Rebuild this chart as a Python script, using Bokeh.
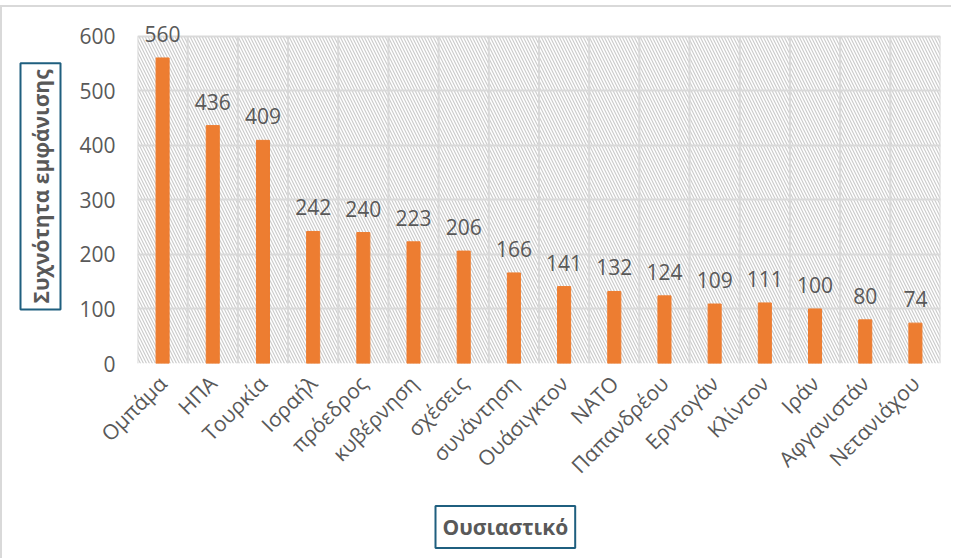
import math
from bokeh.plotting import figure
from bokeh.models import ColumnDataSource, BoxAnnotation, Title, FixedTicker, LabelSet
from bokeh.core.properties import value
from bokeh.embed import file_html
from bokeh.resources import INLINE

categories = ["Ομπάμα", "ΗΠΑ", "Τουρκία", "Ισραήλ", "πρόεδρος", "κυβέρνηση", "σχέσεις",
              "συνάντηση", "Ουάσιγκτον", "ΝΑΤΟ", "Παπανδρέου", "Ερντογάν", "Κλίντον",
              "Ιράν", "Αφγανιστάν", "Νετανιάχου"]
counts = [560, 436, 409, 242, 240, 223, 206, 166, 141, 132, 124, 109, 111, 100, 80, 74]
y_ticks = [0, 100, 200, 300, 400, 500, 600]
y_max = 600

FONT = "Open Sans"
TXT = "#595959"
GRID = "#d9d9d9"
BOXC = "#1F5F7F"

src = ColumnDataSource(dict(cat=categories, val=counts, lab=[str(v) for v in counts]))
boundaries = list(range(len(categories) + 1))

p = figure(x_range=categories, y_range=(0, 625), width=951, height=553,
           output_backend="svg", toolbar_location=None,
           min_border_left=130, min_border_top=15, min_border_right=13, min_border_bottom=196)
p.background_fill_color = "white"
p.border_fill_color = "white"
p.outline_line_color = None

hatch = BoxAnnotation(bottom=0, top=y_max, fill_alpha=0, line_color=None, hatch_pattern="\\",
                      hatch_color="#cccccc", hatch_scale=6, hatch_weight=1.2, level="underlay")
p.center = [hatch] + list(p.center)

p.segment(x0=boundaries, y0=[0] * len(boundaries), x1=boundaries, y1=[y_max] * len(boundaries),
          line_color=GRID, line_width=2)

p.vbar(x="cat", top="val", width=0.26, source=src, color="#ED7D31")

labels = LabelSet(x="cat", y="val", text="lab", source=src, text_align="center",
                  text_baseline="alphabetic", y_offset=16, text_font=value(FONT),
                  text_font_size="21px", text_color=TXT)
p.add_layout(labels)

p.yaxis.ticker = FixedTicker(ticks=y_ticks)
p.ygrid.grid_line_color = GRID
p.ygrid.grid_line_width = 2
p.xgrid.visible = False

for ax in (p.xaxis, p.yaxis):
    ax.axis_line_color = None
    ax.major_tick_line_color = None
    ax.minor_tick_line_color = None
    ax.major_label_text_font = FONT
    ax.major_label_text_font_size = "21px"
    ax.major_label_text_color = TXT
p.yaxis.major_label_standoff = 16
p.xaxis.major_label_standoff = 10
p.xaxis.major_label_orientation = math.pi / 4
p.x_range.range_padding = 0

ytitle = Title(text="Συχνότητα εμφάνισης", align="left", offset=54,
               text_font=FONT, text_font_size="21px", text_font_style="bold",
               text_color=TXT, border_line_color=BOXC, border_line_width=2,
               background_fill_color="white", padding=6, standoff=32)
p.add_layout(ytitle, "left")
xtitle = Title(text="Ουσιαστικό", align="left", offset=298,
               text_font=FONT, text_font_size="21px", text_font_style="bold",
               text_color=TXT, border_line_color=BOXC, border_line_width=2,
               background_fill_color="white", padding=7, standoff=25)
p.add_layout(xtitle, "below")

p.styles = {"border-top": "2px solid #d9d9d9", "border-left": "2px solid #d9d9d9",
            "margin-top": "5px", "margin-left": "0px"}

open("out.html", "w").write(file_html(p, INLINE))
